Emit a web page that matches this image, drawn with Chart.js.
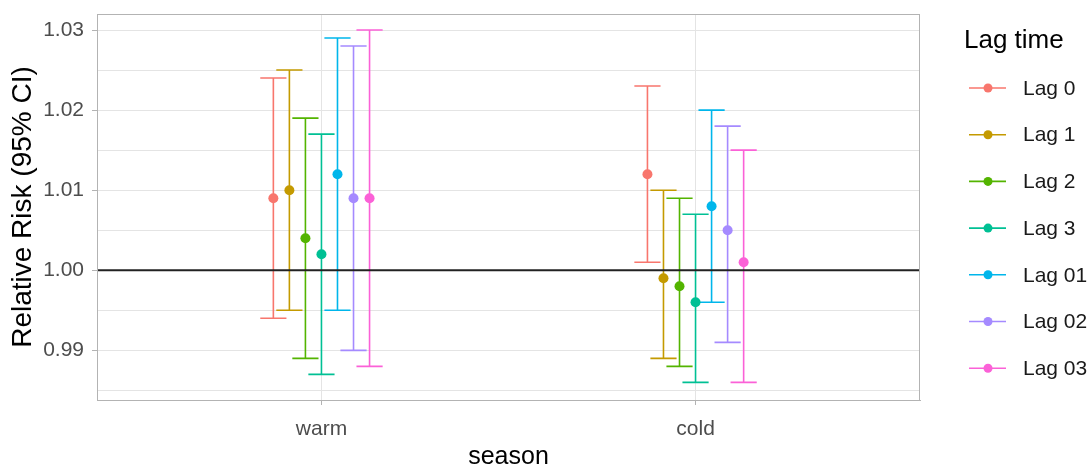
<!DOCTYPE html>
<html>
<head>
<meta charset="utf-8">
<script src="https://cdn.jsdelivr.net/npm/chart.js@4.4.1/dist/chart.umd.min.js"></script>
<style>
    html, body { margin: 0; padding: 0; background: #fff; }
    #wrap { width: 1091px; height: 465px; }
</style>
</head>
<body>
<div id="wrap"><canvas id="chart" width="1091" height="465"></canvas></div>
<script>
const seasons = ["warm", "cold"],
    lags = ["Lag 0", "Lag 1", "Lag 2", "Lag 3", "Lag 01", "Lag 02", "Lag 03"],
    colors = ["#F8766D", "#C49A00", "#53B400", "#00C094", "#00B6EB", "#A58AFF", "#FB61D7"];

// estimate, lower and upper bound per lag
const rrWarm = [1.009, 1.010, 1.004, 1.002, 1.012, 1.009, 1.009],
    loWarm = [0.994, 0.995, 0.989, 0.987, 0.995, 0.990, 0.988],
    hiWarm = [1.024, 1.025, 1.019, 1.017, 1.029, 1.028, 1.030];
const rrCold = [1.012, 0.999, 0.998, 0.996, 1.008, 1.005, 1.001],
    loCold = [1.001, 0.989, 0.988, 0.986, 0.996, 0.991, 0.986],
    hiCold = [1.023, 1.010, 1.009, 1.007, 1.020, 1.018, 1.015];

const yMajor = [0.99, 1.00, 1.01, 1.02, 1.03],
    yLabels = ["0.99", "1.00", "1.01", "1.02", "1.03"],
    yMinor = [0.985, 0.995, 1.005, 1.015, 1.025],
    refLine = 1.00;

const FONT = "'Liberation Sans', Arial, sans-serif",
    dodge = 0.3,
    capWidth = 0.07;

function offset(i) {
    return (i - (lags.length - 1) / 2) * dodge / lags.length;
}

function isMajor(v) {
    return yMajor.findIndex(m => Math.abs(m - v) < 1e-9);
}

const datasets = lags.map((lag, i) => ({
    label: lag,
    data: [
        { x: 1 + offset(i), y: rrWarm[i], lo: loWarm[i], hi: hiWarm[i] },
        { x: 2 + offset(i), y: rrCold[i], lo: loCold[i], hi: hiCold[i] },
    ],
    backgroundColor: colors[i],
    borderColor: colors[i],
    pointRadius: 5,
    pointBorderWidth: 0,
}));

const errorBars = {
    id: "errorBars",
    beforeDatasetsDraw(chart) {
        const { ctx, scales: { x, y }, chartArea } = chart;
        ctx.save();
        chart.data.datasets.forEach(ds => {
            ctx.strokeStyle = ds.borderColor;
            ctx.lineWidth = 1.6;
            ds.data.forEach(d => {
                const px = x.getPixelForValue(d.x),
                    l = x.getPixelForValue(d.x - capWidth / 2),
                    r = x.getPixelForValue(d.x + capWidth / 2),
                    top = y.getPixelForValue(d.hi),
                    bot = y.getPixelForValue(d.lo);
                ctx.beginPath();
                ctx.moveTo(px, top);
                ctx.lineTo(px, bot);
                ctx.moveTo(l, top);
                ctx.lineTo(r, top);
                ctx.moveTo(l, bot);
                ctx.lineTo(r, bot);
                ctx.stroke();
            });
        });
        // reference line at RR = 1
        const ry = y.getPixelForValue(refLine);
        ctx.strokeStyle = "#222";
        ctx.lineWidth = 2;
        ctx.beginPath();
        ctx.moveTo(chartArea.left, ry);
        ctx.lineTo(chartArea.right, ry);
        ctx.stroke();
        ctx.restore();
    },
    afterDraw(chart) {
        const { ctx, chartArea: a } = chart;
        ctx.save();
        ctx.strokeStyle = "#b3b3b3";
        ctx.lineWidth = 1;
        ctx.strokeRect(Math.round(a.left) + 0.5, Math.round(a.top) + 0.5,
            Math.round(a.right - a.left) - 1, Math.round(a.bottom - a.top));
        ctx.restore();
    }
};

const legendBox = {
    id: "legendBox",
    afterDraw(chart) {
        const { ctx } = chart;
        ctx.save();
        ctx.fillStyle = "#000";
        ctx.font = "26px " + FONT;
        ctx.textBaseline = "alphabetic";
        ctx.fillText("Lag time", 964, 48);
        ctx.font = "21px " + FONT;
        ctx.textBaseline = "middle";
        lags.forEach((lag, i) => {
            const cy = 88 + i * 46.7;
            ctx.strokeStyle = colors[i];
            ctx.lineWidth = 1.6;
            ctx.beginPath();
            ctx.moveTo(969, cy);
            ctx.lineTo(1006, cy);
            ctx.stroke();
            ctx.fillStyle = colors[i];
            ctx.beginPath();
            ctx.arc(988, cy, 4.5, 0, Math.PI * 2);
            ctx.fill();
            ctx.fillStyle = "#1a1a1a";
            ctx.fillText(lag, 1023, cy + 1);
        });
        ctx.restore();
    }
};

new Chart(document.getElementById("chart"), {
    type: "scatter",
    data: { datasets },
    plugins: [errorBars, legendBox],
    options: {
        responsive: false,
        animation: false,
        events: [],
        layout: { padding: { top: 14, right: 171, left: 0, bottom: 0 } },
        plugins: {
            legend: { display: false },
            tooltip: { enabled: false },
        },
        scales: {
            x: {
                type: "linear",
                min: 0.4,
                max: 2.6,
                afterBuildTicks: (scale) => {
                    scale.ticks = seasons.map((s, i) => ({ value: i + 1 }));
                },
                afterFit: (scale) => {
                    scale.height = 65;
                    scale.paddingLeft = 0;
                    scale.paddingRight = 0;
                },
                ticks: {
                    callback: (v, i) => seasons[i],
                    color: "#4d4d4d",
                    font: { family: FONT, size: 21 },
                    padding: 12,
                    maxRotation: 0,
                },
                grid: { color: "#e4e4e4", tickColor: "#b3b3b3", tickLength: 5, lineWidth: 1 },
                border: { display: true, color: "#b3b3b3" },
                title: {
                    display: true,
                    text: "season",
                    color: "#000",
                    font: { family: FONT, size: 25, lineHeight: 0.6 },
                    padding: 0,
                },
            },
            y: {
                min: 0.9838,
                max: 1.032,
                afterBuildTicks: (scale) => {
                    scale.ticks = [...yMajor, ...yMinor].sort((a, b) => a - b).map(v => ({ value: v }));
                },
                afterFit: (scale) => {
                    scale.width = 97;
                    scale.paddingTop = 0;
                    scale.paddingBottom = 0;
                },
                ticks: {
                    callback: (v) => {
                        const k = isMajor(v);
                        return k < 0 ? "" : yLabels[k];
                    },
                    color: "#4d4d4d",
                    font: { family: FONT, size: 21 },
                    padding: 8,
                },
                grid: {
                    color: "#e4e4e4",
                    tickColor: (c) => (c.tick && isMajor(c.tick.value) >= 0) ? "#b3b3b3" : "rgba(0,0,0,0)",
                    tickLength: 5,
                    lineWidth: 1,
                },
                border: { display: true, color: "#b3b3b3" },
                title: {
                    display: true,
                    text: "Relative Risk (95% CI)",
                    color: "#000",
                    font: { family: FONT, size: 28 },
                    padding: { top: 6, bottom: 0 },
                },
            },
        },
    },
});
</script>
</body>
</html>
